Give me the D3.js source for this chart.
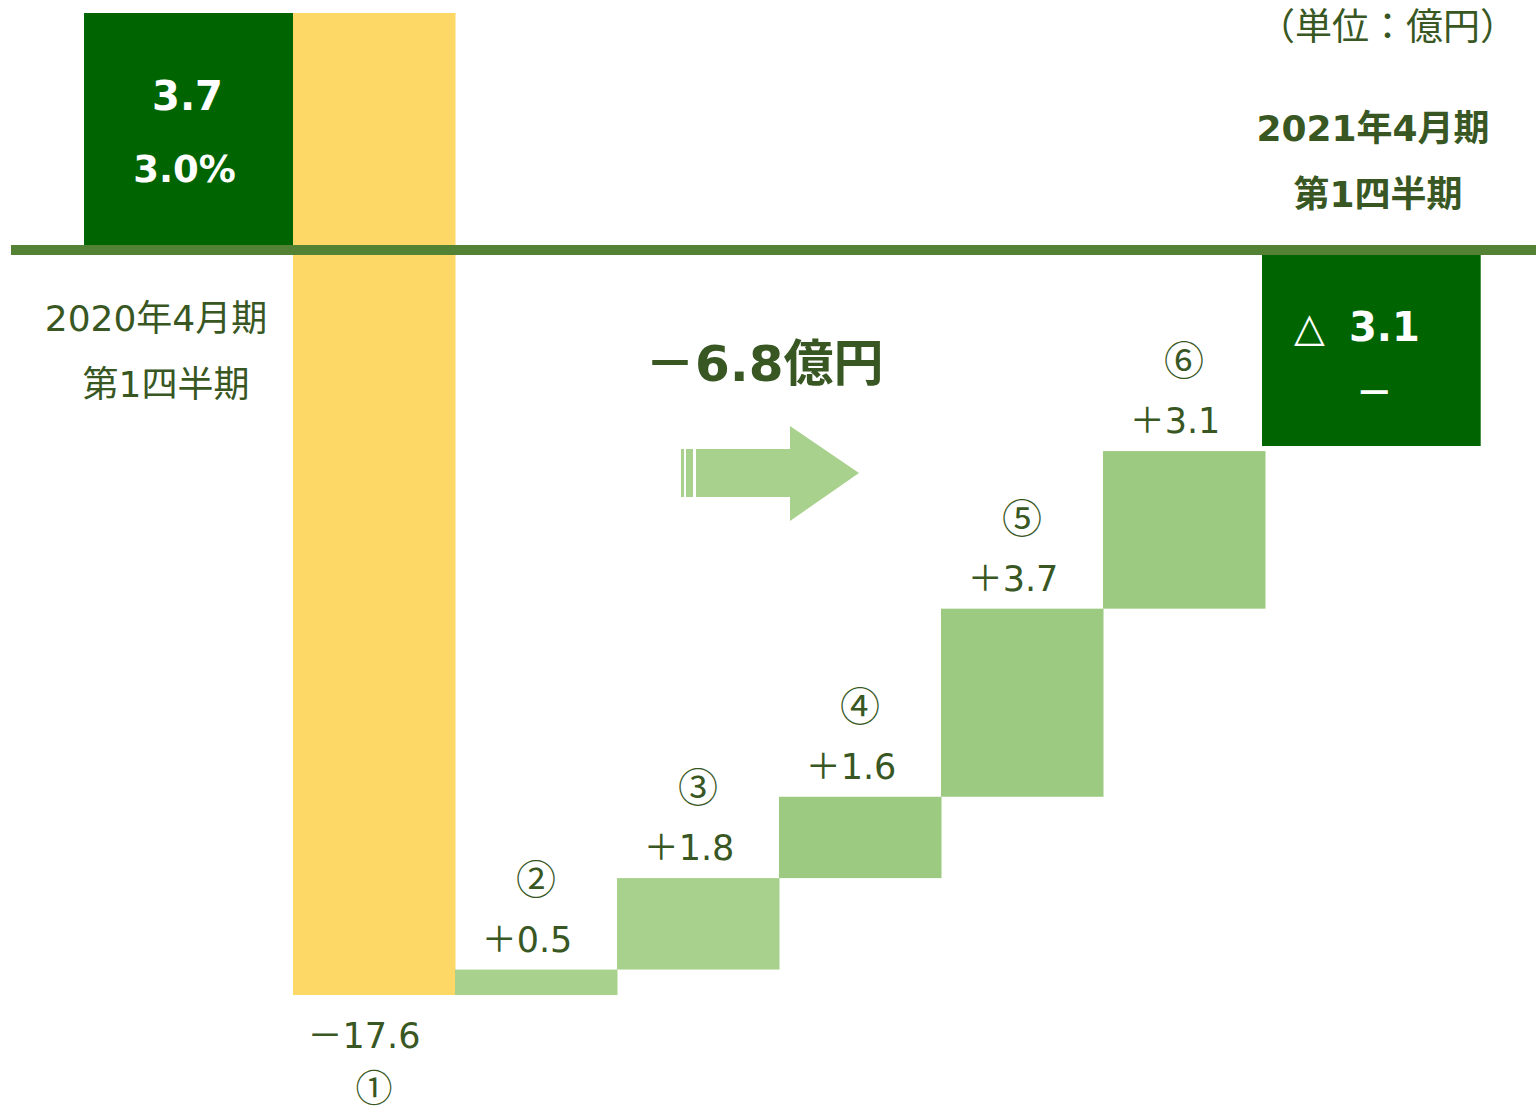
<!DOCTYPE html>
<html><head><meta charset="utf-8">
<script src="https://cdn.jsdelivr.net/npm/d3@7"></script>
<style>
html,body{margin:0;padding:0;background:#fff;}
svg{display:block;}
text{font-family:"DejaVu Sans","Noto Sans CJK JP",sans-serif;}
text.cjk{font-family:"Noto Sans CJK JP",sans-serif;}
</style></head>
<body>
<svg id="chart" width="1536" height="1115"></svg>
<script>
// ---- data ----
const startValue = 3.7;
const startLabels = ["3.7", "3.0%"];
const stepKeys = ["①", "②", "③", "④", "⑤", "⑥"];
const stepValues = [-17.6, 0.5, 1.8, 1.6, 3.7, 3.1];
const stepLabels = ["－17.6", "＋0.5", "＋1.8", "＋1.6", "＋3.7", "＋3.1"];
const endValue = -3.1;
const endLabels = ["△", "3.1", "－"];
const startPeriod = ["2020年4月期", "第1四半期"];
const endPeriod = ["2021年4月期", "第1四半期"];
const unitLabel = "（単位：億円）";
const diffLabel = "－6.8億円";

// ---- colours ----
const C_DARK = "#006400", C_YELLOW = "#FDD866", C_LIGHT = "#A9D18E", C_MID = "#9BCA80";
const C_TEXT = "#385723", C_LINE = "#548235";
const stepColors = [C_YELLOW, C_LIGHT, C_LIGHT, C_MID, C_MID, C_MID];

// running totals
let acc = startValue;
const steps = stepValues.map((v, i) => {
  const from = acc; acc += v;
  return {key: stepKeys[i], value: v, from, to: acc, label: stepLabels[i], color: stepColors[i]};
});
const lowest = d3.min(steps, d => Math.min(d.from, d.to));

const svg = d3.select("#chart");

// scales (upper part and lower waterfall part drawn at different densities, as in the original)
const y = d3.scaleLinear().domain([lowest, endValue, 0, startValue]).range([995, 446, 250, 13]);
const x = d3.scaleBand().domain(stepKeys).range([293, 1265]).padding(0);
const bw = x.bandwidth();

// start bar
const startX0 = x(stepKeys[0]) - bw * 1.29;
svg.append("rect").attr("x", startX0).attr("width", bw * 1.29)
  .attr("y", y(startValue)).attr("height", y(0) - y(startValue)).attr("fill", C_DARK);

// step bars
svg.selectAll("rect.step").data(steps).join("rect").attr("class", "step")
  .attr("x", d => x(d.key)).attr("width", bw + 0.5)
  .attr("y", d => y(Math.max(d.from, d.to)))
  .attr("height", d => Math.abs(y(d.from) - y(d.to)))
  .attr("fill", d => d.color);

// end bar
const endX0 = x(stepKeys[stepKeys.length - 1]) + bw - 3;
const endW = bw * 1.35;
svg.append("rect").attr("x", endX0).attr("width", endW)
  .attr("y", y(0)).attr("height", y(endValue) - y(0)).attr("fill", C_DARK);

// baseline
svg.append("line").attr("x1", 11).attr("x2", 1536).attr("y1", y(0)).attr("y2", y(0))
  .attr("stroke", C_LINE).attr("stroke-width", 10);

// start labels
const sCx = startX0 + bw * 1.29 / 2;
svg.append("text").attr("x", sCx - 1).attr("y", 110).attr("text-anchor", "middle")
  .attr("fill", "#fff").attr("font-weight", 700).attr("font-size", 40).text(startLabels[0]);
svg.append("text").attr("x", sCx - 4).attr("y", 182).attr("text-anchor", "middle")
  .attr("fill", "#fff").attr("font-weight", 700).attr("font-size", 37).text(startLabels[1]);

// end labels
svg.append("text").attr("x", endX0 + 32).attr("y", 341)
  .attr("fill", "#fff").attr("font-size", 40).text(endLabels[0]);
svg.append("text").attr("x", endX0 + 87).attr("y", 341)
  .attr("fill", "#fff").attr("font-weight", 700).attr("font-size", 40).text(endLabels[1]);
svg.append("text").attr("x", endX0 + endW / 2 + 3).attr("y", 406).attr("text-anchor", "middle")
  .attr("fill", "#fff").attr("font-weight", 700).attr("font-size", 38).text(endLabels[2]);

// period labels
svg.append("text").attr("x", 156).attr("y", 331).attr("text-anchor", "middle")
  .attr("fill", C_TEXT).attr("font-size", 36).text(startPeriod[0]);
svg.append("text").attr("x", 166).attr("y", 397).attr("text-anchor", "middle")
  .attr("fill", C_TEXT).attr("font-size", 36).text(startPeriod[1]);
svg.append("text").attr("x", 1373).attr("y", 141).attr("text-anchor", "middle")
  .attr("fill", C_TEXT).attr("font-weight", 700).attr("font-size", 36).text(endPeriod[0]);
svg.append("text").attr("x", 1378).attr("y", 207).attr("text-anchor", "middle")
  .attr("fill", C_TEXT).attr("font-weight", 700).attr("font-size", 36).text(endPeriod[1]);

// unit
svg.append("text").attr("x", 1517).attr("y", 40).attr("text-anchor", "end")
  .attr("fill", C_TEXT).attr("font-size", 37).text(unitLabel);

// step labels
steps.forEach((d, i) => {
  const cx = x(d.key) + bw / 2;
  if (d.value < 0) {
    const b = y(Math.min(d.from, d.to));
    svg.append("text").attr("x", cx - 10).attr("y", b + 53).attr("text-anchor", "middle")
      .attr("fill", C_TEXT).attr("font-size", 35).text(d.label);
    svg.append("text").attr("class", "cjk").attr("x", cx).attr("y", b + 107).attr("text-anchor", "middle")
      .attr("fill", C_TEXT).attr("font-size", 37).text(d.key);
  } else {
    const t = y(Math.max(d.from, d.to));
    svg.append("text").attr("x", cx - 9).attr("y", t - 18).attr("text-anchor", "middle")
      .attr("fill", C_TEXT).attr("font-size", 35).text(d.label);
    svg.append("text").attr("class", "cjk").attr("x", cx).attr("y", t - 76).attr("text-anchor", "middle")
      .attr("fill", C_TEXT).attr("font-size", 40).text(d.key);
  }
});

// difference label + arrow
svg.append("text").attr("x", 645).attr("y", 381)
  .attr("fill", C_TEXT).attr("font-weight", 700).attr("font-size", 50).text(diffLabel);

const ag = svg.append("g").attr("fill", C_LIGHT);
ag.append("rect").attr("x", 681).attr("y", 449).attr("width", 3).attr("height", 48);
ag.append("rect").attr("x", 686).attr("y", 449).attr("width", 7).attr("height", 48);
ag.append("path").attr("d", "M696,449 L790,449 L790,426 L859,473 L790,521 L790,497 L696,497 Z");
</script>
</body></html>
